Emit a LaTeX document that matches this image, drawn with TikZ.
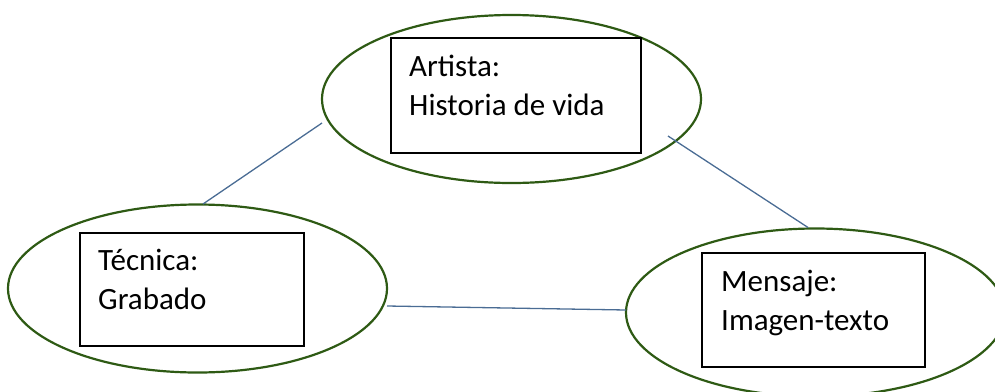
\documentclass[tikz,border=0pt]{standalone}
\usepackage{fontspec}
\setmainfont{Carlito}
\usetikzlibrary{shapes.geometric}
\definecolor{ellgreen}{HTML}{2E5A14}
\definecolor{linkblue}{HTML}{4A6C94}
\begin{document}
\begin{tikzpicture}[x=1pt,y=-1pt,
  bubble/.style={draw=ellgreen, line width=2.2pt, ellipse, minimum width=379pt, minimum height=168pt, inner sep=0pt},
  box/.style={draw=black, line width=2pt, rectangle, inner sep=0pt},
  lbl/.style={anchor=base west, inner sep=0pt, align=left, font=\fontsize{31}{38.5}\selectfont},
  link/.style={draw=linkblue, line width=1.3pt}]
\useasboundingbox (0,0) rectangle (995,391);
% ellipses
\node[bubble] (etop) at (511.5,99) {};
\node[bubble] (eleft) at (197.5,288.5) {};
\node[bubble] (eright) at (815.5,312.5) {};
% boxes
\node[box, minimum width=250pt, minimum height=115pt] (btop) at (516,95.5) {};
\node[box, minimum width=224pt, minimum height=113pt] (bleft) at (192,289.5) {};
\node[box, minimum width=223pt, minimum height=114pt] (bright) at (813.5,310) {};
% labels (base anchor = baseline of last line)
\node[lbl] (ttop) at (409,115) {Artista:\\Historia de vida};
\node[lbl] (tleft) at (98,309) {Técnica:\\Grabado};
\node[lbl] (tright) at (721,330) {Mensaje:\\Imagen-texto};
% connector ends
\coordinate (c1a) at (322,123);
\coordinate (c1b) at (203,204);
\coordinate (c2a) at (668,136);
\coordinate (c2b) at (808,227.5);
\coordinate (c3a) at (387,306);
\coordinate (c3b) at (626,310);
\draw[link] (c1a) -- (c1b);
\draw[link] (c2a) -- (c2b);
\draw[link] (c3a) -- (c3b);
\end{tikzpicture}
\end{document}
